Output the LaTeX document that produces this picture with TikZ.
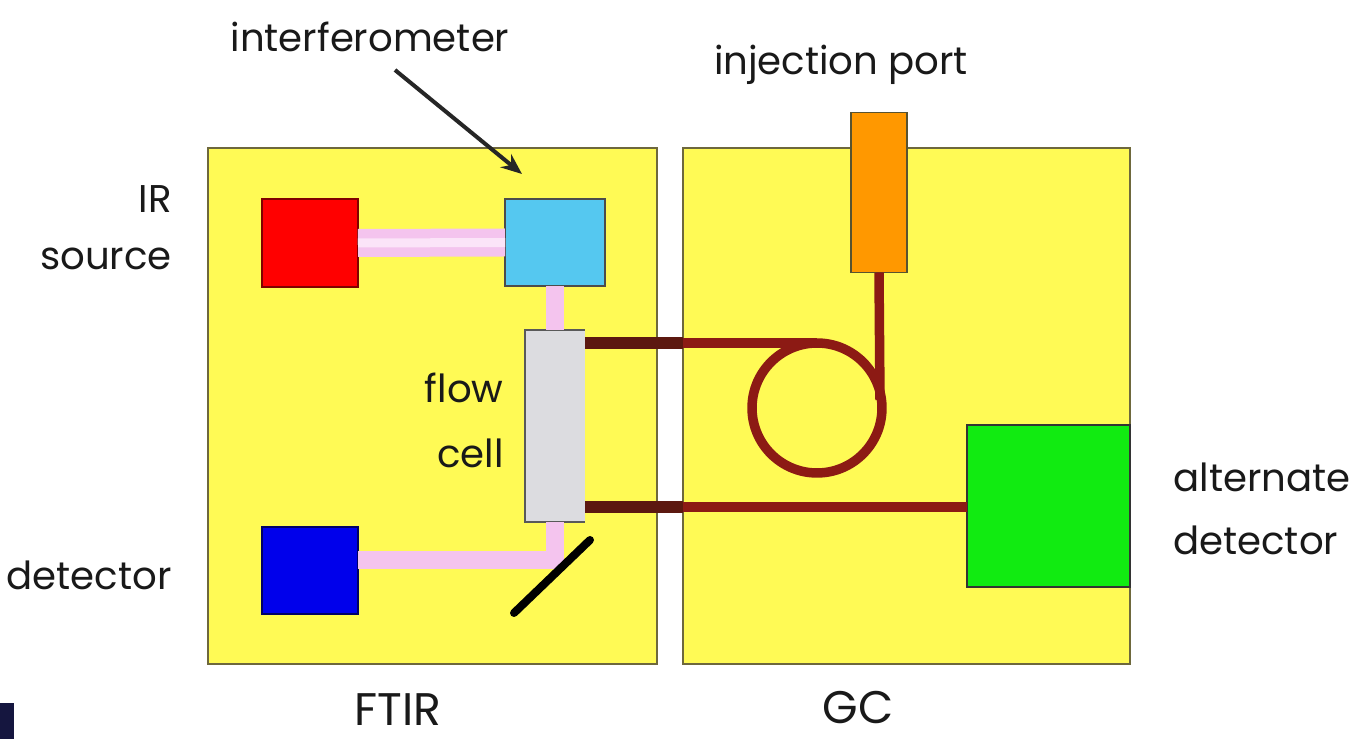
\documentclass[tikz,border=0pt]{standalone}
\usepackage{fontspec}
\setmainfont{Poppins}
\usetikzlibrary{arrows.meta}
\definecolor{boxyellow}{RGB}{255,250,85}
\definecolor{boxline}{RGB}{110,104,60}
\definecolor{srcred}{RGB}{255,0,0}
\definecolor{ifblue}{RGB}{85,200,240}
\definecolor{detblue}{RGB}{0,0,235}
\definecolor{altgreen}{RGB}{17,235,17}
\definecolor{injorange}{RGB}{255,152,0}
\definecolor{cellgray}{RGB}{220,220,224}
\definecolor{beampink}{RGB}{244,196,238}
\definecolor{beamlight}{RGB}{251,228,248}
\definecolor{tubedark}{RGB}{92,24,16}
\definecolor{tubered}{RGB}{140,26,20}
\definecolor{navy}{RGB}{21,22,63}
\tikzset{
  panel/.style={draw=boxline, line width=0.04cm, fill=boxyellow, inner sep=0pt, outer sep=0pt},
  part/.style={draw=black!75, line width=0.035cm, inner sep=0pt, outer sep=0pt},
  lbl/.style={font=\fontsize{22}{30}\selectfont, inner sep=0pt, text=black!90},
  biglbl/.style={font=\fontsize{26}{32}\selectfont, inner sep=0pt, text=black!90},
  beam/.style={draw=beampink, line width=0.36cm},
  thicktube/.style={draw=tubedark, line width=0.24cm},
  thintube/.style={draw=tubered, line width=0.19cm}
}
\begin{document}
\begin{tikzpicture}[x=0.02cm, y=-0.02cm]
\useasboundingbox (0,0) rectangle (1353,739);
\fill[white] (0,0) rectangle (1353,739);
\fill[navy] (0,703) rectangle (14,739);

% panels
\node[panel, minimum width=8.98cm, minimum height=10.32cm] (ftir) at (432.5,406) {};
\node[panel, minimum width=8.94cm, minimum height=10.32cm] (gc) at (906.5,406) {};

% FTIR parts
\node[part, fill=srcred, draw=red!50!black, minimum width=1.92cm, minimum height=1.76cm] (src) at (310,243) {};
\node[part, fill=ifblue, draw=black!70, minimum width=2.0cm, minimum height=1.74cm] (interf) at (555,242.5) {};
\node[part, fill=detblue, draw=blue!40!black, minimum width=1.92cm, minimum height=1.74cm] (det) at (310,570.5) {};

% beams
\draw[beam, line width=0.56cm] (src.east) -- (interf.west);
\draw[draw=beamlight, line width=0.18cm] (src.east) -- (interf.west);
\coordinate (bend) at (555,560);
\node[part, fill=cellgray, draw=none, minimum width=1.2cm, minimum height=3.84cm] (cell) at (555,426) {};
\draw[black!65, line width=0.03cm] (cell.north east) -- (cell.north west) -- (cell.south west) -- (cell.south east);
\draw[beam] (interf.south) -- (cell.north);
\draw[beam] (cell.south) -- ([yshift=-0.18cm]bend) -- (bend) -- (bend -| det.east);

% mirror
\coordinate (m1) at (514,613);
\coordinate (m2) at (590,540);
\draw[black, line width=0.16cm, line cap=round] (m1) -- (m2);

% GC parts
\node[part, fill=injorange, draw=boxline!80!black, minimum width=1.12cm, minimum height=3.2cm] (inj) at (879,192.5) {};
\node[part, fill=altgreen, draw=black!80, minimum width=3.26cm, minimum height=3.24cm] (alt) at (1048.5,506) {};

% tubes
\coordinate (t1a) at (585,343);
\coordinate (t1b) at (683,343);
\coordinate (looptop) at (817,343);
\coordinate (loopc) at (817,408);
\coordinate (loopr) at (880,400);
\coordinate (t2a) at (585,507);
\coordinate (t2b) at (683,507);
\draw[thintube] (t1b) -- (looptop);
\draw[thintube] (loopc) circle[radius=1.3cm];
\draw[thintube] (inj.south) -- (loopr);
\draw[thintube] (t2b) -- (t2b -| alt.west);
\draw[thicktube] (t1a) -- (t1b);
\draw[thicktube] (t2a) -- (t2b);

% labels
\node[lbl, anchor=base] (iflbl) at (370,52) {interferometer};
\coordinate (arr0) at (395,70);
\coordinate (arrtip) at (522,174);
\draw[black!85, line width=0.08cm, -{Stealth[length=0.42cm, width=0.34cm]}] (arr0) -- (arrtip);
\node[lbl, anchor=base] (injlbl) at (841,75) {injection port};
\node[lbl, anchor=base east] (irl1) at (172,213) {IR};
\node[lbl, anchor=base east] (irl2) at (172,270) {source};
\node[lbl, anchor=base east] (fcl1) at (504,403) {flow};
\node[lbl, anchor=base east] (fcl2) at (504,468) {cell};
\node[lbl, anchor=base east] (detlbl) at (172,590) {detector};
\node[lbl, anchor=base west] (altl1) at (1173,492) {alternate};
\node[lbl, anchor=base west] (altl2) at (1173,555) {detector};
\node[biglbl, anchor=base] (ftirlbl) at (398,725) {FTIR};
\node[biglbl, anchor=base] (gclbl) at (858,724) {GC};
\end{tikzpicture}
\end{document}
